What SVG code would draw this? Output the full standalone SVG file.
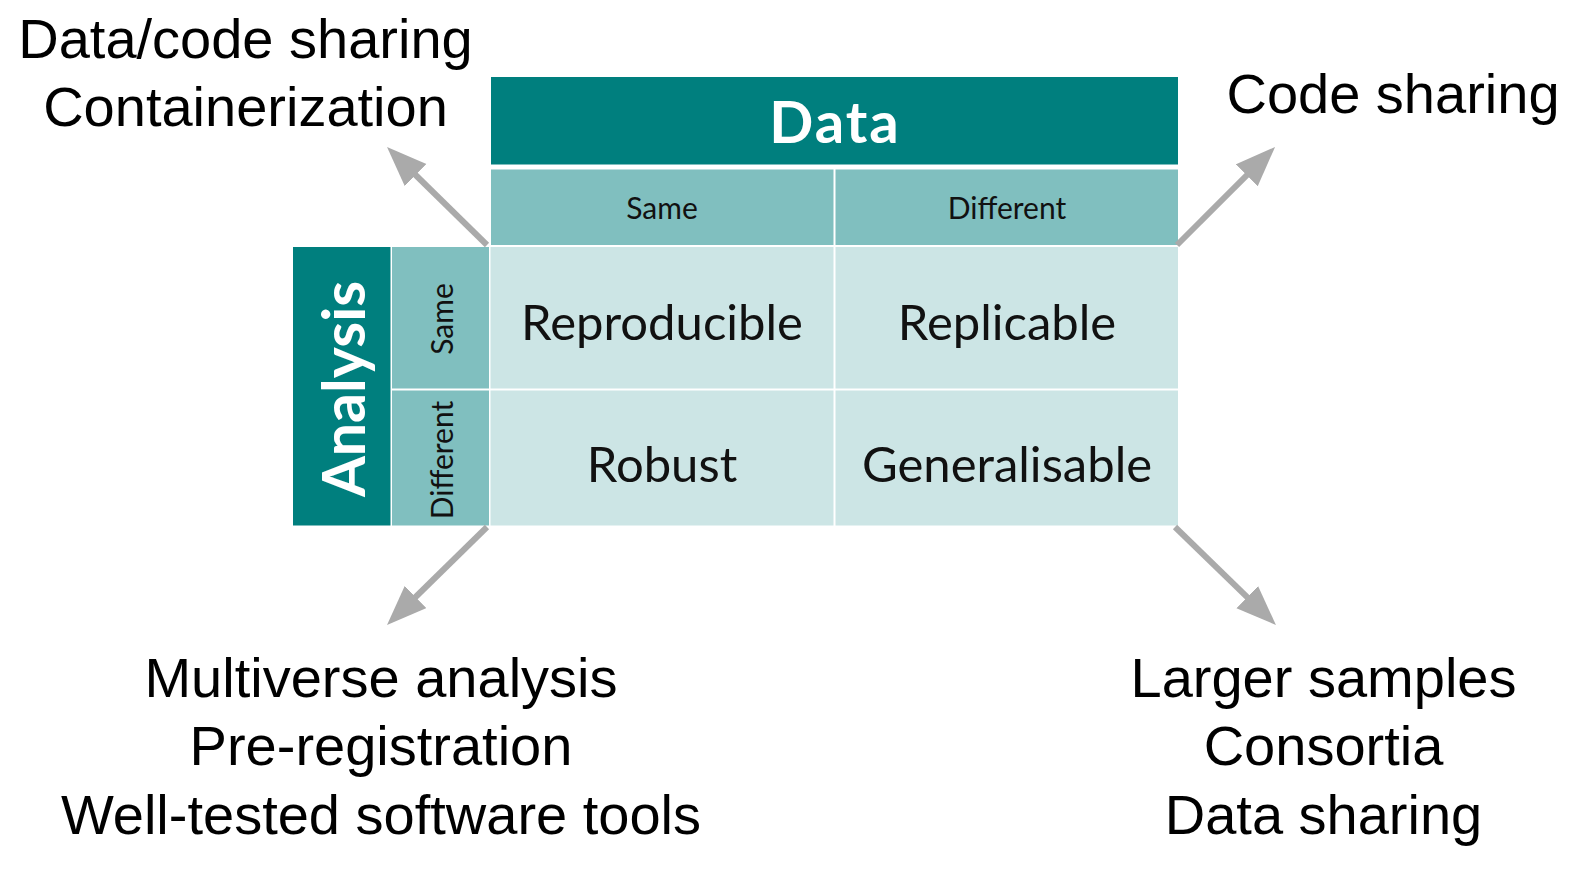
<svg xmlns="http://www.w3.org/2000/svg" width="1584" height="895" viewBox="0 0 1584 895">
<defs>
<style>
.note{font-family:"Liberation Sans",Arial,sans-serif;font-size:56px;fill:#000;text-anchor:middle}
.dark{fill:#007f7e}
.mid{fill:#80bfbf}
.light{fill:#cce5e5}
.tb{font-family:Lato,"Open Sans",sans-serif;fill:#111;text-anchor:middle}
.big{font-size:49px}
.small{font-size:30px}
.head{font-family:Lato,"Open Sans",sans-serif;font-weight:bold;fill:#fff;text-anchor:middle}
.conn{stroke:#aaaaaa;stroke-width:6;fill:none;marker-end:url(#ah)}
</style>
<marker id="ah" markerUnits="userSpaceOnUse" markerWidth="42" markerHeight="32" refX="20" refY="15.5" orient="auto">
<path d="M0,0 L40,15.5 L0,31 Z" fill="#aaaaaa"/>
</marker>
</defs>
<rect width="1584" height="895" fill="#fff"/>
<g id="table">
<g id="data-header">
<rect class="dark" x="491" y="77" width="687" height="87.5"/>
<text class="head" x="835" y="143" font-size="58" letter-spacing="2">Data</text>
</g>
<g id="data-same">
<rect class="mid" x="491" y="169.5" width="342.5" height="75.5"/>
<text class="tb small" x="662" y="219">Same</text>
</g>
<g id="data-different">
<rect class="mid" x="835.5" y="169.5" width="342.5" height="75.5"/>
<text class="tb small" x="1007" y="219">Different</text>
</g>
<g id="analysis-header">
<rect class="dark" x="293" y="247" width="97.5" height="278.5"/>
<text class="head" font-size="59" transform="translate(365,389) rotate(-90)">Analysis</text>
</g>
<g id="analysis-same">
<rect class="mid" x="392" y="247" width="97" height="141.5"/>
<text class="tb small" transform="translate(453,319) rotate(-90)">Same</text>
</g>
<g id="analysis-different">
<rect class="mid" x="392" y="390.5" width="97" height="135"/>
<text class="tb small" transform="translate(453,460) rotate(-90)">Different</text>
</g>
<g id="reproducible">
<rect class="light" x="490.5" y="247" width="343" height="141.5"/>
<text class="tb big" x="662" y="340">Reproducible</text>
</g>
<g id="replicable">
<rect class="light" x="835.5" y="247" width="342.5" height="141.5"/>
<text class="tb big" x="1007" y="340">Replicable</text>
</g>
<g id="robust">
<rect class="light" x="490.5" y="390.5" width="343" height="135"/>
<text class="tb big" x="662" y="482">Robust</text>
</g>
<g id="generalisable">
<rect class="light" x="835.5" y="390.5" width="342.5" height="135"/>
<text class="tb big" x="1007" y="482">Generalisable</text>
</g>
</g>
<g id="connectors">
<line class="conn" x1="487" y1="245" x2="401.3" y2="161"/>
<line class="conn" x1="1177" y1="245" x2="1260.9" y2="161.1"/>
<line class="conn" x1="487" y1="527" x2="401.3" y2="611"/>
<line class="conn" x1="1175" y1="527" x2="1261.6" y2="611.1"/>
</g>
<g id="top-left-note">
<text class="note" x="245.5" y="58">Data/code sharing</text>
<text class="note" x="245.5" y="125.5">Containerization</text>
</g>
<g id="top-right-note">
<text class="note" x="1393" y="113">Code sharing</text>
</g>
<g id="bottom-left-note">
<text class="note" x="381" y="697">Multiverse analysis</text>
<text class="note" x="381" y="765">Pre-registration</text>
<text class="note" x="381" y="834">Well-tested software tools</text>
</g>
<g id="bottom-right-note">
<text class="note" x="1323.5" y="697">Larger samples</text>
<text class="note" x="1323.5" y="765">Consortia</text>
<text class="note" x="1323.5" y="834">Data sharing</text>
</g>
</svg>
